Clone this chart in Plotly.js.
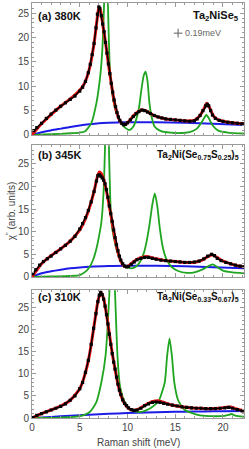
<!DOCTYPE html>
<html>
<head>
<meta charset="utf-8">
<script src="https://cdn.plot.ly/plotly-3.0.1.min.js"></script>
<style>html,body{margin:0;padding:0;background:#fff;}#chart{width:249px;height:449px;}</style>
</head>
<body>
<div id="chart"></div>
<script>
// ---------- Panel (a) 380K Ta2NiSe5 ----------
const aDataX = [0.2,0.5,1.0,1.5,2.0,2.5,3.0,3.5,4.0,4.5,5.0,5.3,5.6,5.9,6.1,6.3,6.5,6.7,6.85,7.0,7.1,7.25,7.4,7.55,7.7,7.85,8.0,8.15,8.3,8.45,8.6,8.75,8.9,9.05,9.2,9.4,9.6,9.8,10.0,10.3,10.6,10.9,11.2,11.5,11.8,12.1,12.4,12.8,13.2,13.6,14.0,14.5,15.0,15.5,16.0,16.5,17.0,17.3,17.6,17.9,18.2,18.35,18.5,18.7,18.9,19.2,19.6,20.0,20.5,21.0,21.5,22.0];
const aDataY = [0.9,1.5,2.4,3.4,4.3,5.1,5.9,6.6,7.3,8.0,9.0,9.8,11.0,12.8,14.5,16.5,18.8,22.0,24.8,26.3,26.0,24.5,22.8,21.2,19.0,16.8,14.6,12.6,10.6,8.8,7.2,5.8,4.6,3.7,3.0,2.4,2.1,2.2,2.5,3.1,3.8,4.4,4.8,5.1,5.0,4.7,4.4,4.0,3.7,3.5,3.3,3.2,3.1,3.0,2.9,2.8,2.9,3.3,4.0,5.0,6.0,6.3,6.0,5.0,4.1,3.4,3.0,2.8,2.6,2.5,2.4,2.3];
const aFitX = [0,0.5,1,2,3,4,5,5.5,6,6.5,6.8,7.0,7.15,7.4,7.7,8.0,8.3,8.6,8.9,9.2,9.5,9.8,10.2,10.6,11.0,11.5,12.0,12.5,13.0,14.0,15.0,16.0,17.0,17.6,18.0,18.3,18.6,19.0,19.5,20,21,22.2];
const aFitY = [0,1.2,2.3,4.2,5.9,7.4,9.2,10.6,13.5,18.8,23.5,26.2,25.8,22.8,19.0,14.6,10.6,7.0,4.5,2.9,2.2,2.2,2.9,3.9,4.6,5.2,4.9,4.3,3.8,3.3,3.1,2.9,3.0,4.0,5.4,6.5,5.6,3.9,3.1,2.8,2.5,2.3];
const aPhX = [0,2,4,5,5.53,6.2,6.74,7.1,7.35,7.55,7.75,7.95,8.15,8.5,8.84,9.36,9.8,10.2,10.6,10.9,11.2,11.45,11.7,11.9,12.1,12.3,12.55,12.85,13.5,14.5,15.5,16.5,17.2,17.7,18.0,18.25,18.5,18.9,19.5,20.5,22.2];
const aPhY = [0,0.15,0.35,0.5,0.7,2.4,6.5,11.3,17,27,45,27,14,7.2,4.5,2.4,1.4,1.0,1.7,3.1,5.5,9.2,12.2,13.0,11.0,6.5,3.5,1.7,0.8,0.5,0.4,0.6,1.2,2.4,3.4,4.1,3.5,2.0,0.9,0.5,0.3];
const aBgX = [0,1,2,3,4,5,6,7,8,10,13,16,19,22.2];
const aBgY = [0,0.55,0.95,1.3,1.65,1.95,2.2,2.4,2.5,2.6,2.6,2.5,2.3,2.05];

// ---------- Panel (b) 345K Ta2Ni(Se0.75S0.25)5 ----------
const bDataX = [0.1,0.4,0.8,1.2,1.6,2.0,2.5,3.0,3.5,4.0,4.5,5.0,5.3,5.6,5.9,6.2,6.5,6.75,6.9,7.05,7.2,7.35,7.5,7.65,7.8,7.95,8.1,8.25,8.4,8.55,8.7,8.85,9.0,9.15,9.3,9.5,9.7,9.9,10.1,10.4,10.7,11.0,11.4,11.8,12.2,12.6,13.0,13.5,14.0,14.5,15.0,15.5,16.0,16.5,17.0,17.5,18.0,18.4,18.8,19.1,19.4,19.8,20.3,20.8,21.3,21.8,22.2];
const bDataY = [0.7,1.6,2.6,3.4,4.0,4.6,5.4,6.2,7.0,7.9,9.0,10.6,11.8,13.1,14.7,16.6,18.9,21.2,22.4,22.6,22.3,21.9,21.4,20.6,19.3,17.6,15.7,14.0,12.3,10.4,8.7,7.1,5.8,4.6,3.7,2.9,2.4,2.2,2.3,2.8,3.3,3.8,4.1,4.3,4.3,4.1,3.9,3.7,3.6,3.5,3.4,3.3,3.2,3.2,3.3,3.5,4.0,4.6,5.0,4.7,4.1,3.6,3.2,2.9,2.6,2.4,2.2];
const bFitX = [0,0.5,1,2,3,4,5,5.5,6.0,6.5,6.8,7.05,7.25,7.5,7.8,8.1,8.4,8.7,9.0,9.3,9.6,9.9,10.2,10.6,11.0,11.5,12.0,12.5,13.0,14.0,15.0,16,17,17.8,18.4,18.9,19.3,19.8,20.5,21.3,22.2];
const bFitY = [0,1.5,2.9,4.7,6.2,7.9,10.4,12.4,15.2,18.9,21.8,23.2,22.9,21.6,19.0,15.6,12.0,8.4,5.5,3.5,2.5,2.3,2.6,3.3,3.9,4.3,4.5,4.3,4.0,3.6,3.4,3.2,3.2,3.7,4.5,4.9,4.4,3.7,3.1,2.6,2.2];
const bPhX = [0,2,4,5,5.5,6.0,6.4,6.75,7.0,7.27,7.5,7.65,7.85,8.05,8.2,8.35,8.66,9.0,9.2,9.6,9.9,10.4,10.9,11.3,11.7,12.0,12.3,12.6,12.85,13.1,13.4,13.7,14.1,14.6,15.3,16.2,17.0,17.8,18.4,18.9,19.4,20.0,21,22.2];
const bPhY = [0,0.1,0.2,0.4,1.0,2.1,3.8,6.3,8.8,12.2,19,29,45,29,17,11.5,7.8,5.0,4.0,2.7,2.2,1.9,2.3,3.3,5.2,7.8,11.5,16,18.5,16,10.5,6.5,3.8,2.2,1.3,0.9,1.0,1.6,2.3,2.75,2.2,1.4,1.0,0.8];
const bBgX = [0,1,2,3,4,5,6,8,10,13,16,19,22.2];
const bBgY = [0,0.8,1.25,1.6,1.9,2.1,2.25,2.4,2.45,2.45,2.35,2.15,1.9];

// ---------- Panel (c) 310K Ta2Ni(Se0.33S0.67)5 ----------
const cDataX = [0.1,0.5,1.0,1.5,2.0,2.5,3.0,3.5,4.0,4.5,5.0,5.3,5.6,5.9,6.2,6.45,6.7,6.9,7.05,7.2,7.35,7.5,7.65,7.8,7.95,8.1,8.25,8.4,8.55,8.7,8.85,9.0,9.15,9.3,9.5,9.7,9.9,10.1,10.4,10.7,11.0,11.4,11.8,12.2,12.6,13.0,13.4,13.8,14.2,14.7,15.2,15.7,16.2,16.7,17.2,17.7,18.2,18.7,19.2,19.7,20.2,20.6,21.0,21.5,22.0];
const cDataY = [0.1,0.6,1.0,1.4,1.8,2.2,2.6,3.2,4.0,5.0,6.6,8.0,10.3,13.0,16.6,20.2,23.5,26.2,27.7,28.3,27.8,26.8,25.2,23.3,21.2,18.9,16.6,14.5,12.6,11.0,9.2,7.6,6.3,5.3,4.1,3.3,2.8,2.3,1.9,1.7,1.8,2.2,2.8,3.2,3.5,3.6,3.5,3.3,3.1,2.9,2.7,2.5,2.4,2.3,2.2,2.2,2.1,2.1,2.1,2.2,2.3,2.4,2.2,1.9,1.6];
const cFitX = [0,0.5,1,2,3,4,5,5.5,6.0,6.5,6.9,7.2,7.5,7.8,8.1,8.4,8.7,9.0,9.3,9.7,10.1,10.5,10.9,11.4,12.0,12.6,13.2,13.8,14.5,15.5,16.5,17.5,18.5,19.5,20.3,20.8,21.3,22.2];
const cFitY = [0,0.5,1.0,1.8,2.7,4.0,6.6,9.5,14,20.8,26.3,28.4,26.9,23.4,19.0,14.6,11.0,7.6,5.2,3.2,2.2,1.8,1.8,2.3,3.1,3.7,3.9,3.5,3.0,2.6,2.3,2.2,2.1,2.2,2.4,2.5,2.1,1.6];
const cPhX = [0,3,5,6.04,6.74,7.27,7.7,8.1,8.4,8.7,8.95,9.2,9.7,10.4,11.3,12.3,12.9,13.3,13.9,14.15,14.4,14.65,14.9,15.3,16.0,17.6,19,20.2,20.6,20.9,21.2,21.6,22.2];
const cPhY = [0,0.1,0.4,1.35,3.6,8.1,14,28,45,28,14,7.4,3.6,1.7,1.35,2.1,3.0,4.0,8,14,17.9,14,8,4,1.8,0.6,0.4,0.5,0.7,0.9,0.6,0.4,0.3];
const cBgX = [0,2,4,6,8,10,12,14,16,18,20,22.2];
const cBgY = [0,0.25,0.5,0.75,0.95,1.1,1.25,1.35,1.42,1.48,1.52,1.55];

// labels
const panelLabels = ['(a) 380K', '(b) 345K', '(c) 310K'];
const sampleLabels = ['Ta<sub>2</sub>NiSe<sub>5</sub>', 'Ta<sub>2</sub>Ni(Se<sub>0.75</sub>S<sub>0.25</sub>)<sub>5</sub>', 'Ta<sub>2</sub>Ni(Se<sub>0.33</sub>S<sub>0.67</sub>)<sub>5</sub>'];
const yTickVals = [0,5,10,15,20,25];
const xTickVals = [0,5,10,15,20];
const resolutionLabel = '0.19meV';

const panels = [
  {dx:aDataX, dy:aDataY, fx:aFitX, fy:aFitY, px:aPhX, py:aPhY, bx:aBgX, by:aBgY},
  {dx:bDataX, dy:bDataY, fx:bFitX, fy:bFitY, px:bPhX, py:bPhY, bx:bBgX, by:bBgY},
  {dx:cDataX, dy:cDataY, fx:cFitX, fy:cFitY, px:cPhX, py:cPhY, bx:cBgX, by:cBgY}
];

const traces = [];
panels.forEach((p, i) => {
  const xa = i === 0 ? 'x' : 'x' + (i + 1);
  const ya = i === 0 ? 'y' : 'y' + (i + 1);
  traces.push({x:p.bx, y:p.by, xaxis:xa, yaxis:ya, mode:'lines', line:{color:'#1c1ce6', width:2, shape:'spline', smoothing:0.8}, hoverinfo:'skip'});
  traces.push({x:p.px, y:p.py, xaxis:xa, yaxis:ya, mode:'lines', line:{color:'#1fa51f', width:1.8, shape:'spline', smoothing:0.6}, hoverinfo:'skip'});
  traces.push({x:p.fx, y:p.fy, xaxis:xa, yaxis:ya, mode:'lines', line:{color:'#ee1111', width:3, shape:'spline', smoothing:0.6}, hoverinfo:'skip'});
  traces.push({x:p.dx, y:p.dy, xaxis:xa, yaxis:ya, mode:'lines+markers', line:{color:'#000', width:1.5}, marker:{color:'#000', size:3.2, symbol:'square'}, hoverinfo:'skip'});
});

// resolution indicator in panel (a)
const resX = [15.3], resY = [20.9];
traces.push({x:resX, y:resY, xaxis:'x', yaxis:'y', mode:'markers', marker:{size:1, color:'#777'},
  error_x:{type:'data', array:[0.45], color:'#777', thickness:1.2, width:0},
  error_y:{type:'data', array:[0.9], color:'#777', thickness:1.2, width:0}, hoverinfo:'skip'});

const frameColor = '#9a9a9a';
const fontFam = 'Liberation Sans, Arial, sans-serif';
function xAxis(anchor, showLabels) {
  return {anchor:anchor, domain:[0,1], range:[0,22.2], tickvals:xTickVals, showticklabels:showLabels,
    ticks:'inside', ticklen:4, tickcolor:frameColor, tickwidth:1, showline:true, linecolor:frameColor, linewidth:1,
    mirror:'ticks', showgrid:false, zeroline:false, tickfont:{size:10, color:'#444', family:fontFam},
    minor:{ticks:'inside', ticklen:2, dtick:1, tickcolor:frameColor, showgrid:false}};
}
function yAxis(anchor, dom, top) {
  return {anchor:anchor, domain:dom, range:[0,top], tickvals:yTickVals,
    ticks:'inside', ticklen:4, tickcolor:frameColor, tickwidth:1, showline:true, linecolor:frameColor, linewidth:1,
    mirror:'ticks', showgrid:false, zeroline:false, tickfont:{size:10, color:'#444', family:fontFam},
    minor:{ticks:'inside', ticklen:2, dtick:1, tickcolor:frameColor, showgrid:false}};
}

const labelY = [0.90, 0.924, 0.945];
const annotations = [];
[0,1,2].forEach(i => {
  const xr = i === 0 ? 'x domain' : 'x' + (i + 1) + ' domain';
  const yr = i === 0 ? 'y domain' : 'y' + (i + 1) + ' domain';
  annotations.push({xref:xr, yref:yr, x:0.02, y:labelY[i], xanchor:'left', yanchor:'middle', showarrow:false,
    text:'<b>' + panelLabels[i] + '</b>', font:{size:11, color:'#111', family:fontFam}});
  annotations.push({xref:xr, yref:yr, x:0.985, y:labelY[i], xanchor:'right', yanchor:'middle', showarrow:false,
    text:'<b>' + sampleLabels[i] + '</b>', font:{size:i === 0 ? 11 : 10, color:'#111', family:fontFam}});
});
annotations.push({xref:'x', yref:'y', x:15.8, y:20.9, xanchor:'left', yanchor:'middle', showarrow:false,
  text:resolutionLabel, font:{size:9, color:'#666', family:fontFam}});
annotations.push({xref:'paper', yref:'paper', x:-0.1, y:0.5, xanchor:'center', yanchor:'middle', showarrow:false, textangle:-90,
  text:'χ<sup>\'\'</sup> (arb. units)', font:{size:10, color:'#444', family:fontFam}});
annotations.push({xref:'paper', yref:'paper', x:0.5, y:-0.058, xanchor:'center', yanchor:'middle', showarrow:false,
  text:'Raman shift (meV)', font:{size:10, color:'#444', family:fontFam}});

const layout = {
  width:249, height:449, margin:{l:32, r:5, t:3, b:31}, paper_bgcolor:'#fff', plot_bgcolor:'#fff',
  showlegend:false, font:{family:fontFam},
  xaxis: xAxis('y', false), yaxis: yAxis('x', [0.682,1], 27.1),
  xaxis2: xAxis('y2', false), yaxis2: yAxis('x2', [0.340,0.658], 29.2),
  xaxis3: xAxis('y3', true), yaxis3: yAxis('x3', [0,0.308], 28.8),
  annotations: annotations
};

Plotly.newPlot('chart', traces, layout, {staticPlot:true, displayModeBar:false});
</script>
</body>
</html>
